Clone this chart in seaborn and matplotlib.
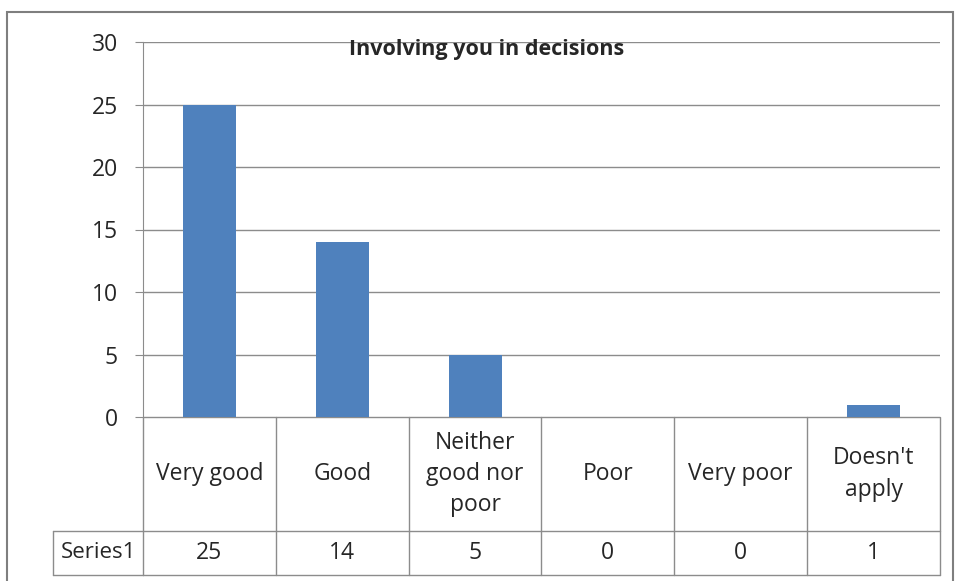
import matplotlib
matplotlib.use('Agg')
import matplotlib.pyplot as plt
import seaborn as sns
import pandas as pd
from matplotlib.patches import Rectangle

# data
categories = ['Very good', 'Good', 'Neither good nor poor', 'Poor', 'Very poor', "Doesn't apply"]
table_labels = ['Very good', 'Good', 'Neither\ngood nor\npoor', 'Poor', 'Very poor', "Doesn't\napply"]
values = [25, 14, 5, 0, 0, 1]
series_name = 'Series1'
title = 'Involving you in decisions'

df = pd.DataFrame({'category': categories, 'value': values})

sns.set_style('white')
plt.rcParams['font.family'] = ['Open Sans', 'DejaVu Sans']

W, H = 958, 581
fig = plt.figure(figsize=(W / 100, H / 100), dpi=100)
grid_c = '#8c8c8c'

# outer chart border
fig.patches.append(Rectangle((7 / W, -0.01), (953 - 7) / W, (H - 12) / H + 0.01,
                             transform=fig.transFigure, fill=False,
                             edgecolor='#7f7f7f', linewidth=1.5))

# bar plot area
ax = fig.add_axes([143 / W, (H - 417) / H, (940 - 143) / W, (417 - 42) / H])
sns.barplot(data=df, x='category', y='value', color='#4F81BD', saturation=1,
            width=0.4, linewidth=0, ax=ax)
ax.set_xlim(-0.5, 5.5)
ax.set_ylim(0, 30)
ax.set_yticks(range(0, 31, 5))
ax.yaxis.grid(True, color=grid_c, linewidth=1)
ax.set_axisbelow(True)
for s in ['top', 'right', 'bottom']:
    ax.spines[s].set_visible(False)
ax.spines['left'].set_color(grid_c)
ax.set_xticks([])
ax.set_xlabel('')
ax.set_ylabel('')
ax.tick_params(axis='y', length=6, color=grid_c, labelsize=16.5, pad=12, left=True)
ax.text(487 / W, (H - 50) / H, title, transform=fig.transFigure, ha='center',
        va='center', fontsize=15.5, fontweight='bold')

# data table underneath
tb = fig.add_axes([143 / W, (H - 575) / H, (940 - 143) / W, (575 - 417) / H])
tb.set_xlim(-0.5, 5.5)
tb.set_ylim(0, 158)
tb.axis('off')
lw = 1
tb.plot([-0.5, 5.5], [158, 158], color=grid_c, lw=lw)
tb.plot([-0.5, 5.5], [0, 0], color=grid_c, lw=lw, clip_on=False)
for i in range(7):
    tb.plot([i - 0.5, i - 0.5], [0, 158], color=grid_c, lw=lw, clip_on=False)
# series label cell extends left of the plot
left_edge = -0.5 - (143 - 53) / ((940 - 143) / 6)
tb.plot([left_edge, 5.5], [44, 44], color=grid_c, lw=lw, clip_on=False)
tb.plot([left_edge, -0.5], [0, 0], color=grid_c, lw=lw, clip_on=False)
tb.plot([left_edge, left_edge], [0, 44], color=grid_c, lw=lw, clip_on=False)
tb.text((left_edge - 0.5) / 2, 22, series_name, ha='center', va='center',
        fontsize=16, clip_on=False)
for i, (lab, v) in enumerate(zip(table_labels, values)):
    tb.text(i, 101, lab, ha='center', va='center', fontsize=16.5, linespacing=1.4)
    tb.text(i, 22, str(v), ha='center', va='center', fontsize=16.5)

fig.savefig('out.png', dpi=100)
